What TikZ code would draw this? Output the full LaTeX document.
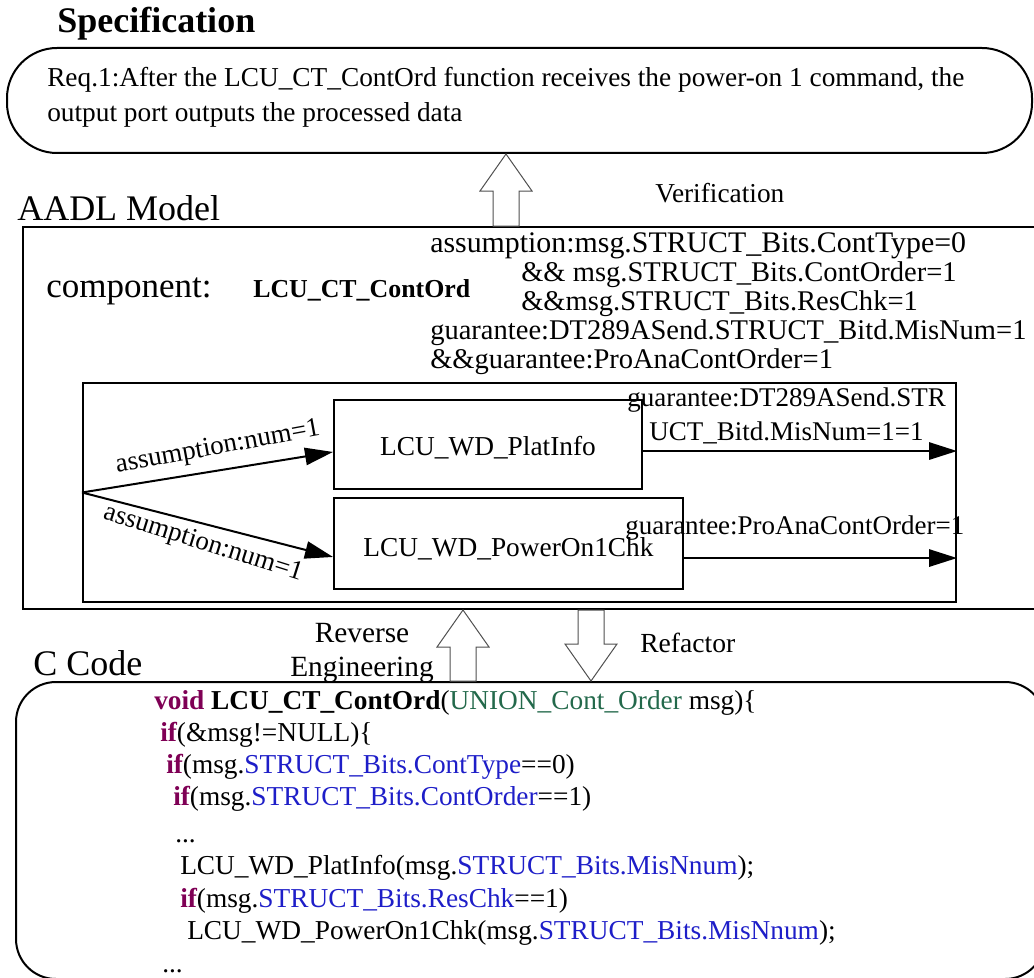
\documentclass[tikz,border=0pt]{standalone}
\usepackage{fontspec}
\setmainfont{Liberation Serif}
\usetikzlibrary{arrows.meta,calc}

\definecolor{kw}{RGB}{127,0,85}
\definecolor{ty}{RGB}{35,105,75}
\definecolor{fld}{RGB}{30,30,200}
\definecolor{blockgray}{RGB}{80,80,80}

% hollow block arrow from #1 (tail) to #2 (tip)
\newcommand\blockarrow[2]{%
  \path ($(#2)!27.75pt!(#1)$) coordinate (bhead);
  \draw[hollow] ($(#1)!9.75pt!90:(#2)$) -- ($(bhead)!9.75pt!90:(#2)$)
    -- ($(bhead)!19.5pt!90:(#2)$) -- (#2) -- ($(bhead)!19.5pt!-90:(#2)$)
    -- ($(bhead)!9.75pt!-90:(#2)$) -- ($(#1)!9.75pt!-90:(#2)$) -- cycle;}

\tikzset{
  box/.style={draw, line width=1.5pt, inner sep=0pt},
  txt/.style={inner sep=0pt, anchor=base west},
  title/.style={txt, font=\fontsize{27}{32}\selectfont},
  note/.style={txt, font=\fontsize{21.4}{26}\selectfont},
  port/.style={inner sep=0pt, font=\fontsize{20.25}{24}\selectfont},
  code/.style={txt, font=\fontsize{20.5}{24}\selectfont},
  flow/.style={line width=1.5pt, -{Triangle[length=21pt,width=13pt]}},
  hollow/.style={draw=blockgray, line width=0.75pt, fill=white, line join=miter},
}

\begin{document}
\begin{tikzpicture}[x=0.75pt,y=-0.75pt]
\useasboundingbox (0,0) rectangle (1034,977);

% ---------------- specification ----------------
\node[title, font=\fontsize{27}{32}\selectfont\bfseries] (spectitle) at (57,33) {Specification};
\node[box, rounded corners=37.5pt, minimum width=768.75pt, minimum height=78.75pt] (spec) at (519.5,100.5) {};
\node[txt, align=left, font=\fontsize{20.5}{26.25}\selectfont] (req) at (47,122)
  {Req.1:After the LCU\_CT\_ContOrd function receives the power-on 1 command, the\\
   output port outputs the processed data};

% ---------------- AADL model ----------------
\node[title] (aadltitle) at (17,220) {AADL Model};
\node[box, minimum width=766.5pt, minimum height=286.5pt] (aadl) at (534,418) {};

\node[txt, font=\fontsize{26.25}{30}\selectfont] (comp) at (46,297) {component:};
\node[txt, font=\fontsize{19.4}{24}\selectfont\bfseries] (compname) at (253,297) {LCU\_CT\_ContOrd};

\node[note, font=\fontsize{22.4}{26}\selectfont] (a1) at (430,252) {assumption:msg.STRUCT\_Bits.ContType=0};
\node[note] (a2) at (521,281) {\&\& msg.STRUCT\_Bits.ContOrder=1};
\node[note] (a3) at (521,310) {\&\&msg.STRUCT\_Bits.ResChk=1};
\node[note] (g1) at (430,339) {guarantee:DT289ASend.STRUCT\_Bitd.MisNum=1};
\node[note] (g2) at (430,368) {\&\&guarantee:ProAnaContOrder=1};

% inner implementation
\node[box, minimum width=654.75pt, minimum height=164.25pt] (inner) at (519.5,492.5) {};
\node[box, minimum width=231pt, minimum height=66.75pt, text height=18pt, text depth=2.2pt,
      font=\fontsize{20.5}{24}\selectfont] (plat) at (488,444.5) {LCU\_WD\_PlatInfo};
\node[box, minimum width=261.75pt, minimum height=68.25pt, text height=20.5pt, text depth=1.7pt,
      font=\fontsize{20.5}{24}\selectfont] (pow) at (508.5,543.5) {LCU\_WD\_PowerOn1Chk};

\coordinate (fork) at (inner.west);
\draw[flow] (fork) -- ([yshift=-5.6pt]plat.west);
\draw[flow] (fork) -- ([yshift=-10.1pt]pow.west);
\node[port, rotate=10.5] (in1) at (218,448) {assumption:num=1};
\node[port, rotate=-17.5] (in2) at (203,544) {assumption:num=1};

\draw[flow] ([yshift=-4.9pt]plat.east) coordinate (o1) -- (o1 -| inner.east);
\draw[flow] ([yshift=-10.9pt]pow.east) coordinate (o2) -- (o2 -| inner.east);
\node[port, anchor=base west] (out1a) at (627,406) {guarantee:DT289ASend.STR};
\node[port, anchor=base west] (out1b) at (649,440) {UCT\_Bitd.MisNum=1=1};
\node[port, anchor=base west] (out2) at (625,534) {guarantee:ProAnaContOrder=1};

% ---------------- C code ----------------
\node[title] (codetitle) at (33,675) {C Code};
\node[box, rounded corners=30pt, minimum width=771.75pt, minimum height=222.75pt] (codebox) at (530.5,830.5) {};

\node[code] (c1) at (154,709) {\textbf{\textcolor{kw}{void} LCU\_CT\_ContOrd}(\textcolor{ty}{UNION\_Cont\_Order} msg)\{};
\node[code] (c2) at (160,741) {\textbf{\textcolor{kw}{if}}(\&msg!=NULL)\{};
\node[code] (c3) at (166,773) {\textbf{\textcolor{kw}{if}}(msg.\textcolor{fld}{STRUCT\_Bits.ContType}==0)};
\node[code] (c4) at (173,805) {\textbf{\textcolor{kw}{if}}(msg.\textcolor{fld}{STRUCT\_Bits.ContOrder}==1)};
\node[code] (c5) at (175,842) {...};
\node[code] (c6) at (180,874) {LCU\_WD\_PlatInfo(msg.\textcolor{fld}{STRUCT\_Bits.MisNnum});};
\node[code] (c7) at (180,907) {\textbf{\textcolor{kw}{if}}(msg.\textcolor{fld}{STRUCT\_Bits.ResChk}==1)};
\node[code] (c8) at (187,939) {LCU\_WD\_PowerOn1Chk(msg.\textcolor{fld}{STRUCT\_Bits.MisNnum});};
\node[code] (c9) at (162,972) {...};

% ---------------- transitions between levels ----------------
\coordinate (vx) at (506,0);
\coordinate (rx) at (463,0);
\coordinate (fx) at (591,0);
\blockarrow{vx |- aadl.north}{vx |- spec.south}
\blockarrow{rx |- codebox.north}{rx |- aadl.south}
\blockarrow{fx |- aadl.south}{fx |- codebox.north}

\node[txt, font=\fontsize{20.5}{24}\selectfont] (verif) at (655,202) {Verification};
\node[inner sep=0pt, anchor=base, font=\fontsize{22}{26}\selectfont] (rev1) at (362,642) {Reverse};
\node[inner sep=0pt, anchor=base, font=\fontsize{22}{26}\selectfont] (rev2) at (362,676) {Engineering};
\node[txt, font=\fontsize{20.7}{24}\selectfont] (refac) at (640,652) {Refactor};
\end{tikzpicture}
\end{document}
